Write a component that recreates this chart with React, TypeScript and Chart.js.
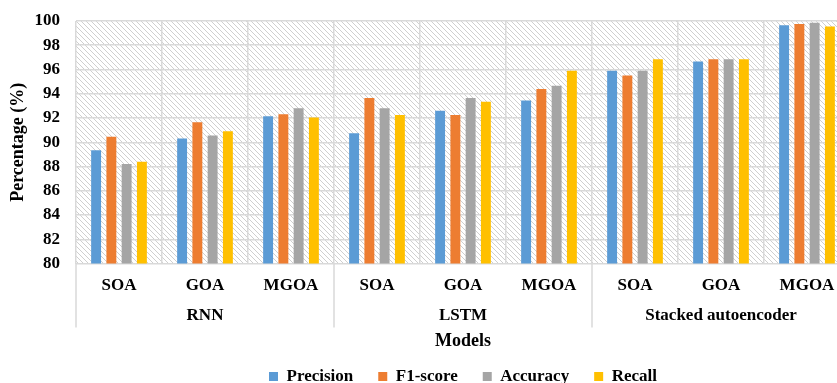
import React, { useEffect, useRef } from 'react';
import { Chart, registerables } from 'chart.js';

Chart.register(...registerables);

const categories = ['SOA', 'GOA', 'MGOA', 'SOA', 'GOA', 'MGOA', 'SOA', 'GOA', 'MGOA'];
const groups = ['RNN', 'LSTM', 'Stacked autoencoder'];
const groupSize = 3;
const precision = [89.35, 90.3, 92.15, 90.75, 92.6, 93.45, 95.9, 96.65, 99.65];
const f1Score = [90.45, 91.65, 92.3, 93.65, 92.25, 94.4, 95.5, 96.85, 99.75];
const accuracy = [88.2, 90.55, 92.8, 92.8, 93.65, 94.65, 95.9, 96.85, 99.85];
const recall = [88.4, 90.9, 92.05, 92.25, 93.35, 95.9, 96.85, 96.85, 99.55];
const yMin = 80;
const yMax = 100;
const yStep = 2;

const FONT = '"Liberation Serif", "Times New Roman", serif';
const GRID = '#d9d9d9';

function makeHatch(): CanvasPattern | string {
  const s = 5;
  const c = document.createElement('canvas');
  c.width = s;
  c.height = s;
  const g = c.getContext('2d');
  if (!g) return '#ffffff';
  g.fillStyle = '#ffffff';
  g.fillRect(0, 0, s, s);
  g.strokeStyle = '#cfcfcf';
  g.lineWidth = 1;
  for (const k of [-s, 0, s]) {
    g.beginPath();
    g.moveTo(k, 0);
    g.lineTo(k + s, s);
    g.stroke();
  }
  return g.createPattern(c, 'repeat') || '#ffffff';
}

const hatchPlugin = {
  id: 'hatchBg',
  beforeDraw(chart: any) {
    const { ctx, chartArea } = chart;
    if (!chartArea) return;
    ctx.save();
    ctx.fillStyle = makeHatch();
    ctx.fillRect(chartArea.left, chartArea.top, chartArea.right - chartArea.left, chartArea.bottom - chartArea.top);
    ctx.restore();
  },
};

const groupPlugin = {
  id: 'groupLabels',
  afterDraw(chart: any) {
    const { ctx, chartArea } = chart;
    const x = chart.scales.x;
    const half = (x.getPixelForValue(1) - x.getPixelForValue(0)) / 2;
    ctx.save();
    ctx.strokeStyle = GRID;
    ctx.lineWidth = 1.5;
    const bounds: number[] = [];
    for (let g = 0; g <= groups.length; g++) {
      const idx = Math.min(g * groupSize, categories.length - 1);
      const px = g * groupSize >= categories.length ? x.getPixelForValue(idx) + half : x.getPixelForValue(idx) - half;
      bounds.push(px);
      ctx.beginPath();
      ctx.moveTo(px, chartArea.bottom);
      ctx.lineTo(px, chartArea.bottom + 64);
      ctx.stroke();
    }
    ctx.fillStyle = '#000';
    ctx.font = 'bold 17px ' + FONT;
    ctx.textAlign = 'center';
    ctx.textBaseline = 'middle';
    groups.forEach((name, i) => {
      ctx.fillText(name, (bounds[i] + bounds[i + 1]) / 2, chartArea.bottom + 52);
    });
    ctx.restore();
  },
};

export default function App() {
  const ref = useRef<HTMLCanvasElement | null>(null);
  useEffect(() => {
    if (!ref.current) return;
    const chart = new Chart(ref.current, {
      type: 'bar',
      data: {
        labels: categories,
        datasets: [
          { label: 'Precision', data: precision, backgroundColor: '#5B9BD5', borderWidth: 0 },
          { label: 'F1-score', data: f1Score, backgroundColor: '#ED7D31', borderWidth: 0 },
          { label: 'Accuracy', data: accuracy, backgroundColor: '#A5A5A5', borderWidth: 0 },
          { label: 'Recall', data: recall, backgroundColor: '#FFC000', borderWidth: 0 },
        ],
      },
      options: {
        responsive: false,
        animation: false,
        devicePixelRatio: 1,
        datasets: { bar: { categoryPercentage: 0.71, barPercentage: 0.65 } },
        layout: { padding: { top: 21, right: 0, left: 0, bottom: 0 } },
        plugins: {
          tooltip: { enabled: false },
          legend: {
            position: 'bottom',
            fullSize: false,
            labels: {
              boxWidth: 9,
              boxHeight: 9,
              padding: 25,
              color: '#000',
              font: { family: FONT, size: 17, weight: 'bold' },
            },
          },
        },
        scales: {
          x: {
            offset: true,
            grid: { color: GRID, lineWidth: 1.5, offset: true, drawTicks: false },
            border: { display: false },
            ticks: {
              color: '#000',
              padding: 12,
              maxRotation: 0,
              autoSkip: false,
              font: { family: FONT, size: 17, weight: 'bold' },
            },
            title: {
              display: true,
              text: 'Models',
              color: '#000',
              font: { family: FONT, size: 18, weight: 'bold' },
              padding: { top: 0, bottom: -9 },
            },
            afterFit(scale: any) {
              scale.height = 79.5;
            },
          },
          y: {
            min: yMin,
            max: yMax,
            ticks: {
              stepSize: yStep,
              color: '#000',
              padding: 16,
              font: { family: FONT, size: 17, weight: 'bold' },
            },
            grid: { color: GRID, lineWidth: 1.5, drawTicks: false },
            border: { display: false },
            title: {
              display: true,
              text: 'Percentage (%)',
              color: '#000',
              font: { family: FONT, size: 18, weight: 'bold' },
              padding: { top: 8, bottom: 0 },
            },
            afterFit(scale: any) {
              scale.width = 76;
              scale.paddingTop = 0;
              scale.paddingBottom = 0;
            },
          },
        },
      },
      plugins: [hatchPlugin, groupPlugin],
    } as any);
    return () => chart.destroy();
  }, []);
  return (
    <div style={{ position: 'fixed', left: 0, top: 0, width: 837, height: 383, overflow: 'hidden', background: '#fff' }}>
      <canvas ref={ref} width={850} height={395} style={{ display: 'block' }} />
    </div>
  );
}
